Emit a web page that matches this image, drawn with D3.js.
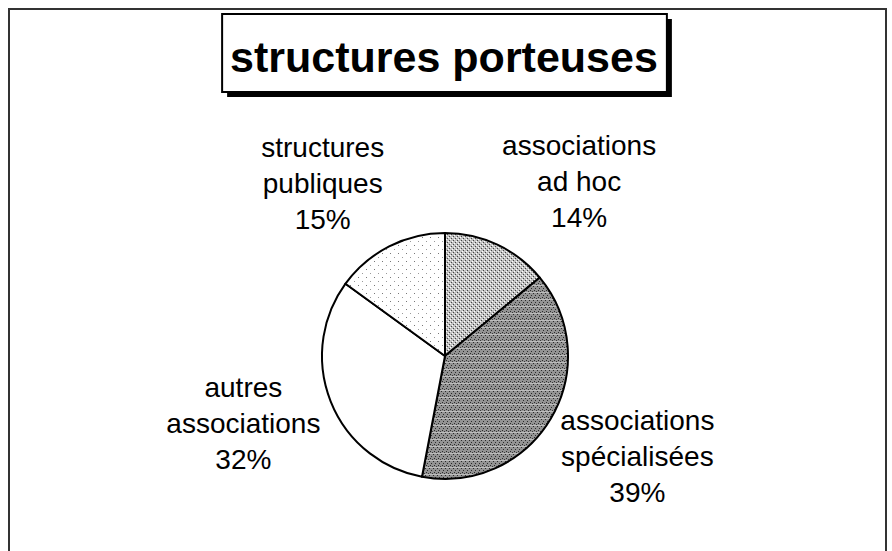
<!DOCTYPE html>
<html>
<head>
<meta charset="utf-8">
<script src="https://cdn.jsdelivr.net/npm/d3@7"></script>
<style>
  body { margin: 0; background: #fff; }
  text { font-family: "Liberation Sans", Arial, sans-serif; fill: #000; }
</style>
</head>
<body>
<div id="chart"></div>
<script>
// data
var titre = "structures porteuses";
var categories = [["associations", "ad hoc"], ["associations", "spécialisées"], ["autres", "associations"], ["structures", "publiques"]];
var parts = [14, 39, 32, 15];
var motifs = ["adhoc", "spec", "blanc", "points"];

var width = 892, height = 551;
var cx = 445, cy = 356, rayon = 123;

var svg = d3.select("#chart").append("svg")
    .attr("width", width)
    .attr("height", height);

// motifs de remplissage (trames)
var defs = svg.append("defs");

var p1 = defs.append("pattern").attr("id", "adhoc")
    .attr("patternUnits", "userSpaceOnUse").attr("width", 4).attr("height", 4);
p1.append("rect").attr("width", 4).attr("height", 4).attr("fill", "#c2c2c2");
p1.append("rect").attr("x", 0).attr("y", 0).attr("width", 1).attr("height", 1).attr("fill", "#444");
p1.append("rect").attr("x", 2).attr("y", 2).attr("width", 1).attr("height", 1).attr("fill", "#444");
p1.append("rect").attr("x", 3).attr("y", 1).attr("width", 1).attr("height", 1).attr("fill", "#fff");
p1.append("rect").attr("x", 1).attr("y", 3).attr("width", 1).attr("height", 1).attr("fill", "#fff");

var p2 = defs.append("pattern").attr("id", "spec")
    .attr("patternUnits", "userSpaceOnUse").attr("width", 4).attr("height", 7);
p2.append("rect").attr("width", 4).attr("height", 7).attr("fill", "#939393");
p2.append("rect").attr("x", 0).attr("y", 0).attr("width", 1).attr("height", 1).attr("fill", "#2a2a2a");
p2.append("rect").attr("x", 2).attr("y", 2).attr("width", 1).attr("height", 1).attr("fill", "#2a2a2a");
p2.append("rect").attr("x", 1).attr("y", 4).attr("width", 1).attr("height", 1).attr("fill", "#2a2a2a");
p2.append("rect").attr("x", 3).attr("y", 5).attr("width", 1).attr("height", 1).attr("fill", "#3a3a3a");
p2.append("rect").attr("x", 0).attr("y", 6).attr("width", 4).attr("height", 1).attr("fill", "#bdbdbd");

var p3 = defs.append("pattern").attr("id", "points")
    .attr("patternUnits", "userSpaceOnUse").attr("width", 8).attr("height", 8);
p3.append("rect").attr("width", 8).attr("height", 8).attr("fill", "#fff");
p3.append("rect").attr("x", 1).attr("y", 1).attr("width", 1).attr("height", 1).attr("fill", "#777");
p3.append("rect").attr("x", 5).attr("y", 5).attr("width", 1).attr("height", 1).attr("fill", "#999");

var remplissage = d3.scaleOrdinal()
    .domain(motifs)
    .range(["url(#adhoc)", "url(#spec)", "#ffffff", "url(#points)"]);

// cadre extérieur (le bas sort de l'image)
svg.append("path")
    .attr("d", "M9,560 L9,9 L886,9 L886,560")
    .attr("fill", "none")
    .attr("stroke", "#333")
    .attr("stroke-width", 2);

// titre dans son cadre avec ombre
var titreG = svg.append("g");
var titreTxt = titreG.append("text")
    .attr("x", 444)
    .attr("y", 72)
    .attr("text-anchor", "middle")
    .attr("font-size", "43px")
    .attr("font-weight", "bold")
    .text(titre);
var tb = titreTxt.node().getBBox();
var bx = tb.x - 8, bw = tb.width + 17, by = 14, bh = 78;
titreG.insert("rect", "text")
    .attr("x", bx + 5).attr("y", by + 5)
    .attr("width", bw).attr("height", bh)
    .attr("fill", "#000");
titreG.insert("rect", "text")
    .attr("x", bx).attr("y", by)
    .attr("width", bw).attr("height", bh)
    .attr("fill", "#fff")
    .attr("stroke", "#000")
    .attr("stroke-width", 2);

// camembert
var pie = d3.pie().sort(null).value(function (d) { return d; });
var arcs = pie(parts);
var arc = d3.arc().innerRadius(0).outerRadius(rayon);

var g = svg.append("g").attr("transform", "translate(" + cx + "," + cy + ")");

g.selectAll("path.part")
    .data(arcs)
    .enter().append("path")
    .attr("class", "part")
    .attr("d", arc)
    .attr("fill", function (d, i) { return remplissage(motifs[i]); })
    .attr("stroke", "#000")
    .attr("stroke-width", 2)
    .attr("stroke-linejoin", "round");

// étiquettes
var taille = 28, interligne = 36, rLabel = 134;
arcs.forEach(function (d, i) {
    var lignes = categories[i].concat([parts[i] + "%"]);
    var lab = g.append("g");
    var t = lab.append("text")
        .attr("text-anchor", "middle")
        .attr("font-size", taille + "px");
    lignes.forEach(function (l, k) {
        t.append("tspan")
            .attr("x", 0)
            .attr("y", (k - 1) * interligne + 10)
            .text(l);
    });
    var w = t.node().getBBox().width;
    var h = lignes.length * interligne;
    var a = (d.startAngle + d.endAngle) / 2;
    var sx = Math.sin(a), sy = -Math.cos(a);
    var kv = Math.min(1, 1.84 * Math.abs(Math.cos(a)) - 0.35);
    var lx = sx * rLabel + Math.sign(sx) * w / 2;
    var ly = sy * rLabel + Math.sign(sy) * h / 2 * kv;
    lab.attr("transform", "translate(" + lx + "," + ly + ")");
});
</script>
</body>
</html>
